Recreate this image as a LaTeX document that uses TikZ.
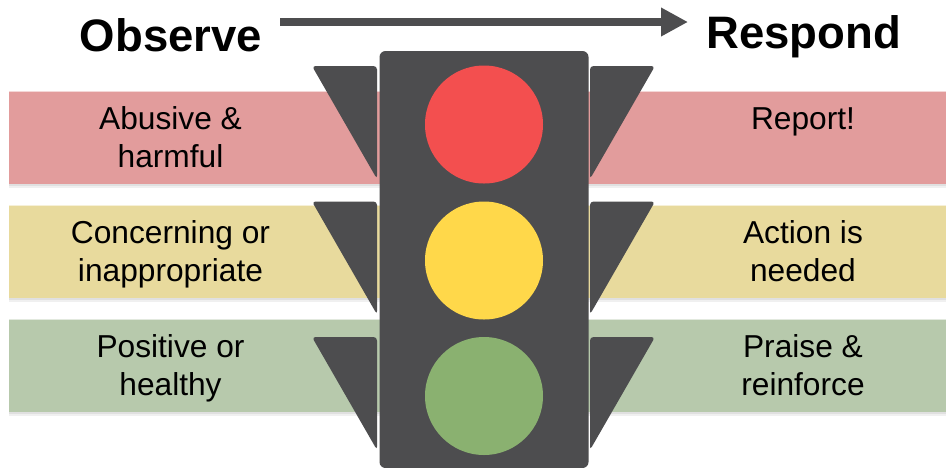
\documentclass[tikz,border=0pt]{standalone}
\usepackage{fontspec}
\setmainfont{Liberation Sans}
\usetikzlibrary{arrows.meta}
\definecolor{dark}{HTML}{4D4D4F}
\definecolor{bandred}{HTML}{E29C9C}
\definecolor{bandyellow}{HTML}{E8DA9D}
\definecolor{bandgreen}{HTML}{B7C9AC}
\definecolor{lampred}{HTML}{F34F4F}
\definecolor{lampyellow}{HTML}{FFD84A}
\definecolor{lampgreen}{HTML}{8AB170}
\newcommand\lnstrut{\rule[-7pt]{0pt}{30pt}}
\tikzset{
  band/.style={minimum width=937pt,minimum height=92.5pt,inner sep=0pt,anchor=north west},
  label/.style={font=\fontsize{31.7pt}{38pt}\selectfont,align=center,inner sep=0pt,text=black},
  head/.style={font=\fontsize{45.5pt}{50pt}\selectfont\bfseries,inner sep=0pt,text=black},
  lamp/.style={circle,minimum size=118pt,inner sep=0pt},
  wing/.style={fill=dark,rounded corners=3.5pt},
  flow/.style={draw=dark,line width=8pt,-{Triangle[length=27pt,width=27pt]}},
}
\begin{document}
\begin{tikzpicture}[x=1pt,y=-1pt]
\useasboundingbox (0,0) rectangle (946,467);
\fill[white] (0,0) rectangle (946,467);
% soft shadow under each band and lighter upper edge
\foreach \y/\c in {91.5/bandred,205.5/bandyellow,319.5/bandgreen}{
  \fill[black!12] (9,\y+92.5) rectangle (946,\y+94.5);
  \fill[black!6] (9,\y+94.5) rectangle (946,\y+96.5);
  \fill[\c!40] (9,\y-1) rectangle (946,\y);
}
% bands
\node[band,fill=bandred] (b1) at (9,91.5) {};
\node[band,fill=bandyellow] (b2) at (9,205.5) {};
\node[band,fill=bandgreen] (b3) at (9,319.5) {};
% wings
\foreach \y in {66,201.5,337}{
  \fill[wing] (377,\y) -- (312,\y) -- (377,\y+113) -- cycle;
  \fill[wing] (590,\y) -- (655,\y) -- (590,\y+113) -- cycle;
}
% body
\path[fill=dark,rounded corners=6pt] (379.5,51) rectangle (588.5,468);
\node[lamp,fill=lampred] (red) at (484,124.5) {};
\node[lamp,fill=lampyellow] (yellow) at (484,260.5) {};
\node[lamp,fill=lampgreen] (green) at (484,396) {};
% arrow
\coordinate (from) at (280,22);
\coordinate (to) at (688,22);
\draw[flow] (from) -- (to);
% headings
\node[head] (obs) at (171,35) {Observe};
\node[head] (resp) at (803.5,37) {Respond};
% labels
\node[label] (l1) at (170.5,140) {\lnstrut Abusive \&\\\lnstrut harmful};
\node[label] (l2) at (170.5,254) {\lnstrut Concerning or\\\lnstrut inappropriate};
\node[label] (l3) at (170.5,368) {\lnstrut Positive or\\\lnstrut healthy};
\node[label] (r1) at (803,121) {\lnstrut Report!};
\node[label] (r2) at (803,254) {\lnstrut Action is\\\lnstrut needed};
\node[label] (r3) at (803,368) {\lnstrut Praise \&\\\lnstrut reinforce};
\end{tikzpicture}
\end{document}
